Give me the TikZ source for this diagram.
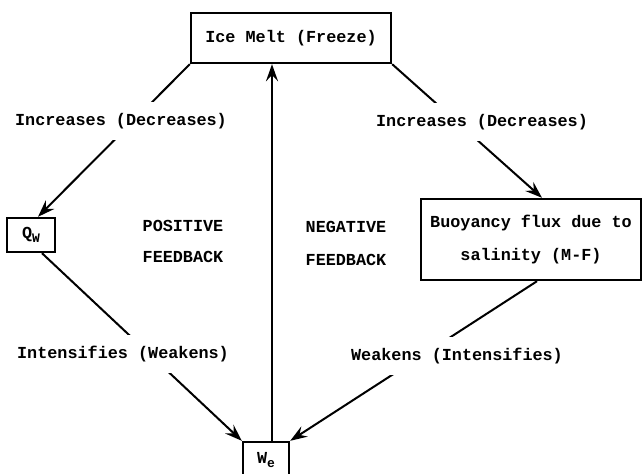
\documentclass[tikz,border=0pt]{standalone}
\usepackage{fontspec}
\newfontfamily\cour{Liberation Mono}
\usetikzlibrary{arrows.meta}
\newcommand{\lowsub}[1]{\raisebox{-4pt}{\fontsize{13}{13}\selectfont #1}}
\begin{document}
\begin{tikzpicture}[x=1pt,y=-1pt,
  every node/.style={font=\cour\bfseries\fontsize{16.8}{20}\selectfont, inner sep=0pt},
  boxnode/.style={draw, line width=2.4pt, anchor=center},
  conn/.style={line width=2pt},
  arr/.style={conn, -{Stealth[length=17pt,width=12pt,inset=6pt]}},
  lbl/.style={fill=white, inner xsep=2pt, inner ysep=11pt},
  plain/.style={}]
\useasboundingbox (0,0) rectangle (644,473);
\fill[white] (0,0) rectangle (644,473);
% boxes
\node[boxnode, minimum width=200pt, minimum height=50pt] (ice) at (291,38) {Ice Melt (Freeze)};
\node[boxnode, minimum width=48pt, minimum height=34pt] (qw) at (31,235) {Q\lowsub{W}};
\node[boxnode, minimum width=220pt, minimum height=81pt, align=center] (buoy) at (531,239.5)
  {Buoyancy flux due to\\[13pt]salinity (M-F)};
\node[boxnode, minimum width=46pt, minimum height=36pt] (we) at (266,460) {W\lowsub{e}};
% connectors
\draw[arr] (ice.south west) -- ([xshift=7pt]qw.north);
\draw[arr] (ice.south east) -- ([xshift=11pt]buoy.north);
\draw[arr] ([xshift=11pt]qw.south) -- (we.north west);
\draw[arr] ([xshift=6pt]buoy.south) -- (we.north east);
\draw[arr] ([xshift=6pt]we.north) -- ([xshift=6pt]we.north |- ice.south);
% labels
\node[lbl] (l1) at (121,121) {Increases (Decreases)};
\node[lbl] (l2) at (482,122) {Increases (Decreases)};
\node[lbl] (l3) at (123,354) {Intensifies (Weakens)};
\node[lbl] (l4) at (457,356) {Weakens (Intensifies)};
\node[plain] (pos1) at (183,226) {POSITIVE};
\node[plain] (pos2) at (183,257) {FEEDBACK};
\node[plain] (neg1) at (346,227) {NEGATIVE};
\node[plain] (neg2) at (346,260) {FEEDBACK};
\end{tikzpicture}
\end{document}
